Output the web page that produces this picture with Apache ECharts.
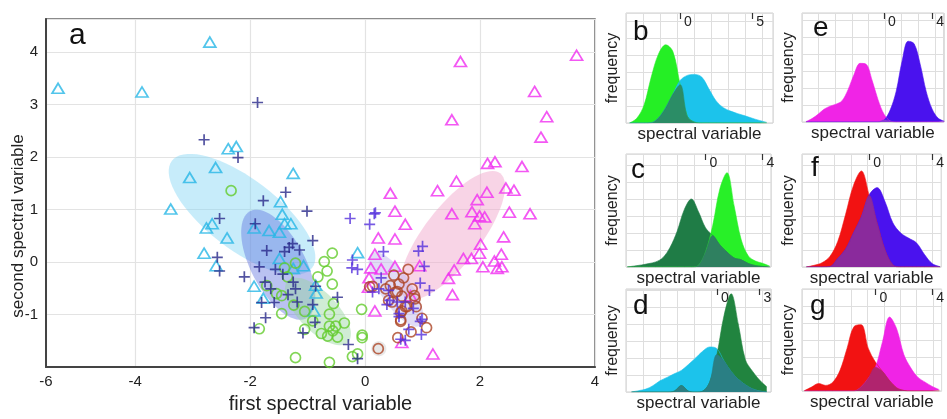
<!DOCTYPE html>
<html>
<head>
<meta charset="utf-8">
<script src="https://cdn.jsdelivr.net/npm/echarts@6/dist/echarts.min.js"></script>
<style>
html, body { margin: 0; padding: 0; background: #fff; }
#chart { width: 947px; height: 419px; }
</style>
</head>
<body>
<div id="chart"></div>
<script>
// ---- panel a: [first, second] spectral variable per class ----
const cyanTriangles = [[-5.34,3.31],[-2.70,4.19],[-3.88,3.24],[-2.38,2.16],[-2.24,2.20],[-2.60,1.80],[-3.05,1.61],[-1.25,1.69],[-1.47,1.15],[-3.38,1.01],[-1.44,0.91],[-2.66,0.73],[-2.76,0.65],[-2.40,0.46],[-1.93,0.65],[-1.67,0.60],[-1.49,0.57],[-1.40,0.73],[-1.29,0.73],[-2.80,0.17],[-2.59,-0.07],[-1.49,0.07],[-1.25,-0.12],[-1.07,-0.07],[-1.93,-0.46],[-1.77,-0.69],[-0.86,-0.44],[-0.85,-0.59],[-0.89,-0.93],[-0.13,0.18]];
const navyPlus = [[-1.87,3.04],[-2.80,2.33],[-2.21,1.99],[-1.38,1.33],[-1.77,1.17],[-1.01,0.97],[-2.53,0.83],[-1.91,0.73],[-0.91,0.41],[-1.71,0.22],[-1.26,0.35],[-1.32,0.28],[-1.14,0.23],[-1.40,0.20],[-2.57,0.09],[-2.53,-0.17],[-1.84,-0.09],[-1.56,-0.14],[-1.43,-0.23],[-2.10,-0.28],[-1.25,-0.38],[-1.74,-0.38],[-1.64,-0.51],[-1.21,-0.51],[-0.86,-0.46],[-1.34,-0.62],[-1.80,-0.77],[-1.58,-0.77],[-1.18,-0.76],[-0.91,-0.81],[-0.48,-0.67],[-1.73,-1.06],[-0.87,-1.15],[-1.93,-1.25],[-1.08,-1.35],[-0.29,-1.57],[-0.13,-1.84]];
const greenCircles = [[-2.33,1.36],[-0.57,0.17],[-0.71,0.01],[-0.66,-0.17],[-0.82,-0.28],[-0.57,-0.42],[-1.21,-0.02],[-1.40,-0.11],[-1.35,-0.28],[-1.71,-0.45],[-1.54,-0.60],[-1.45,-0.64],[-1.24,-0.82],[-1.05,-0.94],[-0.55,-0.79],[-0.62,-0.99],[-0.36,-1.16],[-1.45,-0.98],[-1.84,-1.27],[-1.05,-1.28],[-0.91,-1.12],[-0.76,-1.36],[-0.62,-1.22],[-0.56,-1.31],[-0.65,-1.41],[-0.48,-1.43],[-1.21,-1.82],[-0.62,-1.91],[-0.06,-0.90],[-0.05,-1.39],[-0.05,-1.44],[-0.22,-1.80],[-0.13,-1.75],[-0.51,-1.22]];
const magentaTriangles = [[1.66,3.82],[3.68,3.94],[2.95,3.25],[3.16,2.77],[1.51,2.71],[3.06,2.38],[2.13,1.88],[2.26,1.91],[2.73,1.82],[1.59,1.54],[1.26,1.36],[0.44,1.31],[2.12,1.33],[2.45,1.41],[2.59,1.37],[1.95,1.19],[0.52,0.97],[1.51,0.92],[1.86,0.96],[1.99,0.88],[2.08,0.86],[2.51,0.95],[2.87,0.92],[1.91,0.73],[0.70,0.72],[0.23,0.46],[0.52,0.44],[2.41,0.48],[2.01,0.34],[1.99,0.17],[2.37,0.15],[1.71,0.07],[1.85,0.07],[2.25,0.02],[2.05,-0.09],[2.30,-0.12],[2.38,-0.09],[1.55,-0.15],[1.45,-0.31],[0.17,0.15],[0.28,-0.13],[0.10,-0.11],[0.07,-0.30],[0.52,-0.08],[0.95,-0.07],[0.06,-0.48],[1.52,-0.62],[0.17,-0.93],[1.18,-1.75],[0.79,-0.64],[0.64,-1.53]];
const violetPlus = [[-0.26,0.83],[0.16,0.92],[0.18,0.94],[0.08,0.72],[0.32,0.20],[0.93,0.21],[1.00,0.30],[1.03,-0.08],[-0.22,0.04],[-0.23,-0.11],[-0.13,-0.14],[0.28,-0.30],[0.13,-0.57],[0.41,-0.54],[0.96,-0.40],[1.12,-0.54],[0.56,-0.76],[0.70,-0.76],[0.38,-0.81],[0.59,-0.98],[0.84,-0.88],[0.96,-1.13],[0.76,-1.28],[0.98,-1.38],[0.62,-1.47],[0.70,-1.49],[0.24,-0.51],[0.43,-0.73],[0.59,-1.04],[0.99,-1.09]];
const brownCircles = [[0.75,-0.14],[0.67,-0.30],[0.50,-0.25],[0.13,-0.46],[0.44,-0.45],[0.56,-0.56],[0.82,-0.51],[0.86,-0.64],[0.64,-0.65],[0.47,-0.76],[0.73,-0.85],[0.89,-0.85],[0.62,-0.96],[0.99,-1.07],[1.07,-1.25],[0.62,-1.13],[0.80,-1.33],[0.57,-1.44],[0.23,-1.65],[0.36,-0.51],[0.59,-0.42],[0.41,-0.73],[0.53,-0.57],[0.87,-0.70],[0.70,-0.85],[0.08,-0.47],[0.64,-0.93],[0.62,-1.10]];

// class ellipses: centre, end of major axis, minor/major ratio
const ellipseCentres = [[-2.14,0.91],[-1.51,-0.05],[-0.82,-0.94],[1.52,0.51],[0.54,-0.52],[0.24,-1.65]];
const ellipseTips = [[-3.36,1.93],[-2.00,0.97],[-1.34,-0.35],[2.35,1.69],[0.12,0.17],[0.37,-1.65]];
const ellipseRatios = [0.40, 0.45, 0.45, 0.36, 0.36, 1.0];

const xTicks = [-6, -4, -2, 0, 2, 4];
const yTicks = [-1, 0, 1, 2, 3, 4];

// ---- panels b-g: density curves (x = spectral variable, y = frequency) ----
const bX = [-3.5,-3,-2.5,-2,-1.5,-1,-0.5,0,0.5,1,1.5,2,2.5,3,3.5,4,4.5,5,5.5,6];
const bGreen = [0,0.28,1.05,2.7,4.05,4.6,4.2,2.25,0.4,0.05,0,0,0,0,0,0,0,0,0,0];
const bCyan = [0,0,0,0.02,0.3,0.9,1.7,2.5,2.8,2.86,2.7,2.0,1.3,0.9,0.7,0.55,0.42,0.28,0.15,0.04];

const cX = [-5.5,-5,-4.5,-4,-3.5,-3,-2.5,-2,-1.5,-1,-0.5,0,0.5,1,1.5,2,2.5,3,3.5,4,4.5];
const cDarkGreen = [0,0.06,0.12,0.2,0.3,0.55,1.15,2.1,3.37,4.0,3.25,2.3,1.85,1.3,0.88,0.53,0.42,0.2,0.08,0.03,0];
const cGreen = [0,0,0,0,0,0,0,0,0,0,0.1,0.9,2.45,4.6,5.55,3.6,1.6,0.65,0.35,0.22,0.05];

const dX = [-6,-5.5,-5,-4.5,-4,-3.5,-3,-2.5,-2,-1.5,-1,-0.5,0,0.5,1,1.5,2,2.5,3,3.5];
const dCyan = [0,0.08,0.17,0.37,0.66,0.86,1.07,1.27,1.62,2.0,2.4,2.65,2.55,1.82,1.2,0.75,0.42,0.18,0.06,0];
const dDarkGreen = [0,0,0,0,0,0,0.05,0.38,0.05,0,0.05,0.6,2.2,4.5,5.78,4.0,1.9,1.22,0.7,0.3];

const eX = [-6.5,-6,-5.5,-5,-4.5,-4,-3.5,-3,-2.5,-2,-1.5,-1,-0.5,0,0.5,1,1.5,2,2.5,3,3.5,4,4.5,5];
const eMagenta = [0.02,0.2,0.45,0.75,0.93,1.05,1.25,1.9,2.8,3.45,3.4,2.45,1.3,0.45,0.06,0,0,0,0,0,0,0,0,0];
const eViolet = [0,0,0,0,0,0,0,0,0,0,0,0,0,0.12,0.7,1.8,3.6,4.75,4.6,3.4,1.8,0.75,0.22,0.05];

const fX = [-4,-3.5,-3,-2.5,-2,-1.5,-1,-0.5,0,0.5,1,1.5,2,2.5,3,3.5,4,4.5];
const fRed = [0,0.1,0.25,0.62,1.5,3.1,4.8,5.65,4.2,2.58,1.0,0.12,0,0,0,0,0,0];
const fViolet = [0,0,0,0.02,0.5,1.05,2.0,2.95,4.25,4.67,3.85,2.6,2.0,1.7,1.42,0.75,0.2,0.02];

const gX = [-5,-4.5,-4,-3.5,-3,-2.5,-2,-1.5,-1,-0.5,0,0.5,1,1.5,2,2.5,3,3.5,4,4.5];
const gRed = [0.02,0.23,0.44,0.33,0.52,1.2,2.5,3.8,3.9,2.5,1.7,1.15,0.6,0.18,0.03,0,0,0,0,0];
const gMagenta = [0,0,0,0,0,0,0,0,0.25,0.75,1.4,2.9,4.35,3.65,2.15,1.35,0.8,0.52,0.27,0.08];

const FONT = '"Liberation Sans", Arial, sans-serif';
const X_MIN = -5.55, X_MAX = 4;
const xTickPos = xTicks.map(v => Math.max(v, X_MIN));
const GRID_STEP = 17; // px between the faint grid lines of panels b-g

const panels = [
    { letter: 'b', rect: [626, 13, 147, 110], range: [-3.75, 6.44], ticks: [0, 5], xs: bX, a: bGreen, b: bCyan,
      colors: ['#25ef25', '#1cc3eb'], overlap: '#2b8d66', at: [633, 32] },
    { letter: 'c', rect: [626, 154, 145, 113], range: [-5.59, 4.59], ticks: [0, 4], xs: cX, a: cDarkGreen, b: cGreen,
      colors: ['#1f7c46', '#28f028'], overlap: '#2f8060', at: [631, 170] },
    { letter: 'd', rect: [626, 289, 145, 103], range: [-6.39, 3.80], ticks: [0, 3], xs: dX, a: dCyan, b: dDarkGreen,
      colors: ['#1cc3eb', '#21843f'], overlap: '#2a7f84', at: [633, 306] },
    { letter: 'e', rect: [802, 13, 145, 109], range: [-6.83, 4.96], ticks: [0, 4], xs: eX, a: eMagenta, b: eViolet,
      colors: ['#f024e6', '#4a12ee'], overlap: '#8a3ad8', at: [813, 28] },
    { letter: 'f', rect: [802, 154, 145, 113], range: [-4.27, 4.57], ticks: [0, 4], xs: fX, a: fRed, b: fViolet,
      colors: ['#f21212', '#4a12ee'], overlap: '#8a2a9c', at: [811, 168] },
    { letter: 'g', rect: [802, 289, 145, 102], range: [-5.17, 4.66], ticks: [0, 4], xs: gX, a: gRed, b: gMagenta,
      colors: ['#f21212', '#f024e6'], overlap: '#b0246e', at: [810, 306] }
];

const ellipseColors = ['rgba(130,212,245,0.45)', 'rgba(90,110,222,0.42)', 'rgba(150,212,160,0.45)',
    'rgba(242,170,205,0.5)', 'rgba(195,185,238,0.5)', 'rgba(190,190,190,0.35)'];

const grids = [{ left: 46, top: 19, width: 549, height: 357, show: true, borderColor: '#666', borderWidth: 1.5 }];
const xAxes = [{
    type: 'value', gridIndex: 0, min: X_MIN, max: X_MAX,
    name: 'first spectral variable', nameLocation: 'middle', nameGap: 24,
    nameTextStyle: { fontFamily: FONT, fontSize: 20, color: '#222' },
    axisLine: { onZero: false, lineStyle: { color: '#444', width: 2 } },
    axisTick: { show: false, customValues: xTickPos },
    axisLabel: {
        customValues: xTickPos, fontFamily: FONT, fontSize: 15, color: '#222', margin: 7,
        formatter: v => String(xTicks[xTickPos.findIndex(p => Math.abs(p - v) < 1e-6)])
    },
    splitLine: { show: true, lineStyle: { color: '#e3e3e3', width: 1.2 } }
}];
const yAxes = [{
    type: 'value', gridIndex: 0, min: -2, max: 4.63, interval: 1,
    axisLine: { onZero: false, lineStyle: { color: '#444', width: 2 } },
    axisTick: { show: false },
    axisLabel: { customValues: yTicks, fontFamily: FONT, fontSize: 15, color: '#222', margin: 8 },
    splitLine: { show: true, lineStyle: { color: '#e3e3e3', width: 1.2 } }
}];

function scatter(name, data, symbol, size, color) {
    return {
        name, type: 'scatter', xAxisIndex: 0, yAxisIndex: 0, data, symbol, symbolSize: size, z: 5,
        itemStyle: { color: 'rgba(0,0,0,0)', borderColor: color, borderWidth: 1.7 }
    };
}
const PLUS = 'path://M5,0L5,10M0,5L10,5';

const series = [
    {
        type: 'custom', xAxisIndex: 0, yAxisIndex: 0, z: 1,
        data: ellipseCentres.map((c, i) => [c[0], c[1], ellipseTips[i][0], ellipseTips[i][1], ellipseRatios[i]]),
        renderItem: (params, api) => {
            const c = api.coord([api.value(0), api.value(1)]);
            const t = api.coord([api.value(2), api.value(3)]);
            const k = api.value(4);
            const ux = t[0] - c[0], uy = t[1] - c[1];
            const vx = -uy * k, vy = ux * k;
            const points = [];
            for (let s = 0; s < 72; s++) {
                const a = s / 72 * Math.PI * 2;
                points.push([c[0] + ux * Math.cos(a) + vx * Math.sin(a), c[1] + uy * Math.cos(a) + vy * Math.sin(a)]);
            }
            return { type: 'polygon', shape: { points }, style: { fill: ellipseColors[params.dataIndex] } };
        }
    },
    scatter('cyan', cyanTriangles, 'triangle', [12, 10], '#27b6e6'),
    scatter('green', greenCircles, 'circle', 10, '#63cc2c'),
    scatter('navy', navyPlus, PLUS, 11, '#28288a'),
    scatter('magenta', magentaTriangles, 'triangle', [12, 10], '#f02ef0'),
    scatter('brown', brownCircles, 'circle', 10, '#ad4526'),
    scatter('violet', violetPlus, PLUS, 11, '#5430dc')
];

const graphic = [
    { type: 'text', x: 69, y: 36, style: { text: 'a', font: '30px ' + FONT, fill: '#111', verticalAlign: 'middle' } },
    { type: 'text', x: 18, y: 226, rotation: Math.PI / 2,
      style: { text: 'second spectral variable', font: '17px ' + FONT, fill: '#222', align: 'center', verticalAlign: 'middle' } }
];

panels.forEach((p, i) => {
    const g = i + 1;
    const [left, top, w, h] = p.rect;
    grids.push({ left, top, width: w, height: h, show: true, borderColor: '#cfcfcf', borderWidth: 1 });
    // faint square background grid
    xAxes.push({
        type: 'value', gridIndex: g, position: 'bottom', min: 0, max: w / GRID_STEP, interval: 1,
        name: 'spectral variable', nameLocation: 'middle', nameGap: 3,
        nameTextStyle: { fontFamily: FONT, fontSize: 17, color: '#222', verticalAlign: 'top' },
        axisLine: { show: false, onZero: false }, axisTick: { show: false }, axisLabel: { show: false },
        splitLine: { show: true, lineStyle: { color: '#dedede', width: 1 } }
    });
    const dataAxisIndex = xAxes.length;
    xAxes.push({
        type: 'value', gridIndex: g, position: 'top', min: p.range[0], max: p.range[1],
        axisLine: { show: false, onZero: false },
        axisTick: { show: true, inside: true, length: 6, customValues: p.ticks, lineStyle: { color: '#333', width: 1.2 } },
        axisLabel: { inside: true, customValues: p.ticks, align: 'left', margin: 2, padding: [0, 0, 0, 4],
                     fontFamily: FONT, fontSize: 14, color: '#222' },
        splitLine: { show: false }
    });
    const yIndex = yAxes.length;
    yAxes.push({
        type: 'value', gridIndex: g, min: 0, max: h / GRID_STEP, interval: 1,
        name: 'frequency', nameLocation: 'middle', nameGap: 5,
        nameTextStyle: { fontFamily: FONT, fontSize: 16, color: '#222' },
        axisLine: { show: false, onZero: false }, axisTick: { show: false }, axisLabel: { show: false },
        splitLine: { show: true, lineStyle: { color: '#dedede', width: 1 } }
    });
    const area = (data, color, z) => ({
        type: 'line', xAxisIndex: dataAxisIndex, yAxisIndex: yIndex, data, smooth: 0.35, symbol: 'none', z,
        lineStyle: { width: 0.6, color }, areaStyle: { color, opacity: 1 }
    });
    series.push(area(p.xs.map((x, j) => [x, p.a[j]]), p.colors[0], 2));
    series.push(area(p.xs.map((x, j) => [x, p.b[j]]), p.colors[1], 2));
    series.push(area(p.xs.map((x, j) => [x, Math.min(p.a[j], p.b[j])]), p.overlap, 3));
    graphic.push({ type: 'text', x: p.at[0], y: p.at[1],
        style: { text: p.letter, font: '28px ' + FONT, fill: '#111', verticalAlign: 'middle' }, z: 10 });
});

const chart = echarts.init(document.getElementById('chart'));
chart.setOption({
    animation: false,
    backgroundColor: '#fff',
    textStyle: { fontFamily: FONT },
    grid: grids,
    xAxis: xAxes,
    yAxis: yAxes,
    series,
    graphic
});
</script>
</body>
</html>
